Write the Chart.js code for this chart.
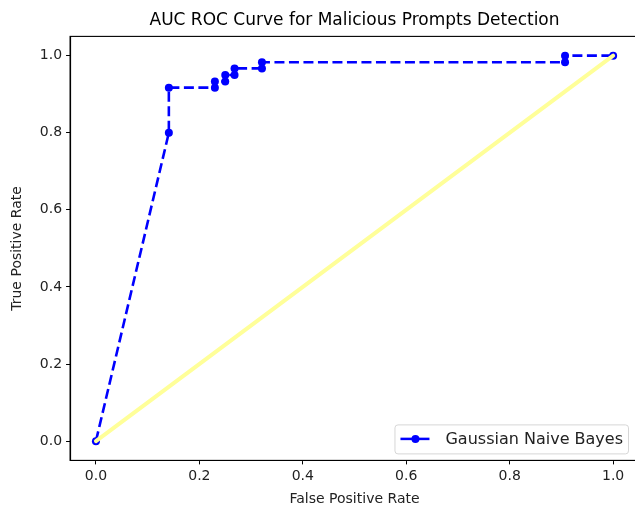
<!DOCTYPE html>
<html>
<head>
<meta charset="utf-8">
<script src="https://cdn.jsdelivr.net/npm/chart.js@4"></script>
<style>
    html, body { margin: 0; padding: 0; background: #fff; overflow: hidden; }
    #wrap { width: 645px; height: 513px; }
</style>
</head>
<body>
<div id="wrap"><canvas id="rocChart"></canvas></div>
<script>
// ROC points
const fpr = [0.0, 0.141, 0.141, 0.23, 0.23, 0.25, 0.25, 0.268, 0.268, 0.321, 0.321, 0.907, 0.907, 1.0];
const tpr = [0.0, 0.80, 0.917, 0.917, 0.933, 0.933, 0.95, 0.95, 0.967, 0.967, 0.983, 0.983, 1.0, 1.0];
const diagX = [0, 1];
const diagY = [0, 1];
const tickValues = [0.0, 0.2, 0.4, 0.6, 0.8, 1.0];
const seriesLabel = 'Gaussian Naive Bayes';

const font = "'DejaVu Sans', sans-serif";

function toPoints(xs, ys) {
    return xs.map((x, i) => ({ x: x, y: ys[i] }));
}

// spines on all four sides + legend box in lower right, like matplotlib
const frameAndLegend = {
    id: 'frameAndLegend',
    afterDraw(chart) {
        const ctx = chart.ctx;
        const a = chart.chartArea;
        ctx.save();
        ctx.strokeStyle = '#000';
        ctx.lineWidth = 1.1;
        ctx.strokeRect(a.left, a.top, a.right - a.left, a.bottom - a.top);

        ctx.font = '16px ' + font;
        const textW = ctx.measureText(seriesLabel).width;
        const right = a.right - 11;
        const bottom = a.bottom - 7;
        const h = 29;
        const w = textW + 56;
        const left = right - w;
        const top = bottom - h;
        ctx.fillStyle = 'rgba(255,255,255,0.8)';
        ctx.strokeStyle = '#d6d6d6';
        ctx.lineWidth = 1;
        ctx.beginPath();
        ctx.roundRect(left + 0.5, top + 0.5, w, h, 3);
        ctx.fill();
        ctx.stroke();

        const cy = top + h / 2;
        ctx.strokeStyle = '#0000ff';
        ctx.lineWidth = 2.5;
        ctx.beginPath();
        ctx.moveTo(left + 6, cy);
        ctx.lineTo(left + 35, cy);
        ctx.stroke();
        ctx.fillStyle = '#0000ff';
        ctx.beginPath();
        ctx.arc(left + 21, cy, 4, 0, Math.PI * 2);
        ctx.fill();

        ctx.fillStyle = '#222';
        ctx.textBaseline = 'middle';
        ctx.fillText(seriesLabel, left + 51, cy + 1);
        ctx.restore();
    }
};

const ctx = document.getElementById('rocChart').getContext('2d');
new Chart(ctx, {
    type: 'scatter',
    data: {
        datasets: [
            {
                label: 'Random',
                data: toPoints(diagX, diagY),
                showLine: true,
                borderColor: '#ffff99',
                borderWidth: 4,
                pointRadius: 0,
                borderCapStyle: 'round'
            },
            {
                label: seriesLabel,
                data: toPoints(fpr, tpr),
                showLine: true,
                borderColor: '#0000ff',
                backgroundColor: '#0000ff',
                borderWidth: 2.6,
                borderDash: [10, 4.5],
                pointRadius: 4,
                pointBorderWidth: 0,
                pointHoverRadius: 4
            }
        ]
    },
    options: {
        responsive: true,
        maintainAspectRatio: false,
        animation: false,
        layout: { padding: { left: 9, right: 6, top: 5, bottom: 5 } },
        plugins: {
            legend: { display: false },
            tooltip: { enabled: false },
            title: {
                display: true,
                fullSize: false,
                text: 'AUC ROC Curve for Malicious Prompts Detection',
                color: '#000',
                font: { family: font, size: 17, weight: 'normal' },
                padding: { top: 5, bottom: 6 }
            }
        },
        scales: {
            x: {
                type: 'linear',
                min: -0.05,
                max: 1.05,
                afterBuildTicks: (axis) => { axis.ticks = tickValues.map(v => ({ value: v })); },
                grid: { display: true, drawOnChartArea: false, drawTicks: true, tickLength: 4, color: '#000' },
                border: { display: true, color: '#000', width: 1.1 },
                ticks: {
                    color: '#222',
                    font: { family: font, size: 14 },
                    padding: 4,
                    maxRotation: 0,
                    callback: (v) => v.toFixed(1)
                },
                title: {
                    display: true,
                    text: 'False Positive Rate',
                    color: '#222',
                    font: { family: font, size: 14 },
                    padding: { top: 2, bottom: 0 }
                }
            },
            y: {
                type: 'linear',
                min: -0.05,
                max: 1.05,
                afterBuildTicks: (axis) => { axis.ticks = tickValues.map(v => ({ value: v })); },
                grid: { display: true, drawOnChartArea: false, drawTicks: true, tickLength: 4, color: '#000' },
                border: { display: true, color: '#000', width: 1.1 },
                ticks: {
                    color: '#222',
                    font: { family: font, size: 14 },
                    padding: 4,
                    callback: (v) => v.toFixed(1)
                },
                title: {
                    display: true,
                    text: 'True Positive Rate',
                    color: '#222',
                    font: { family: font, size: 14 },
                    padding: { top: 0, bottom: 10 }
                }
            }
        }
    },
    plugins: [frameAndLegend]
});
</script>
</body>
</html>
